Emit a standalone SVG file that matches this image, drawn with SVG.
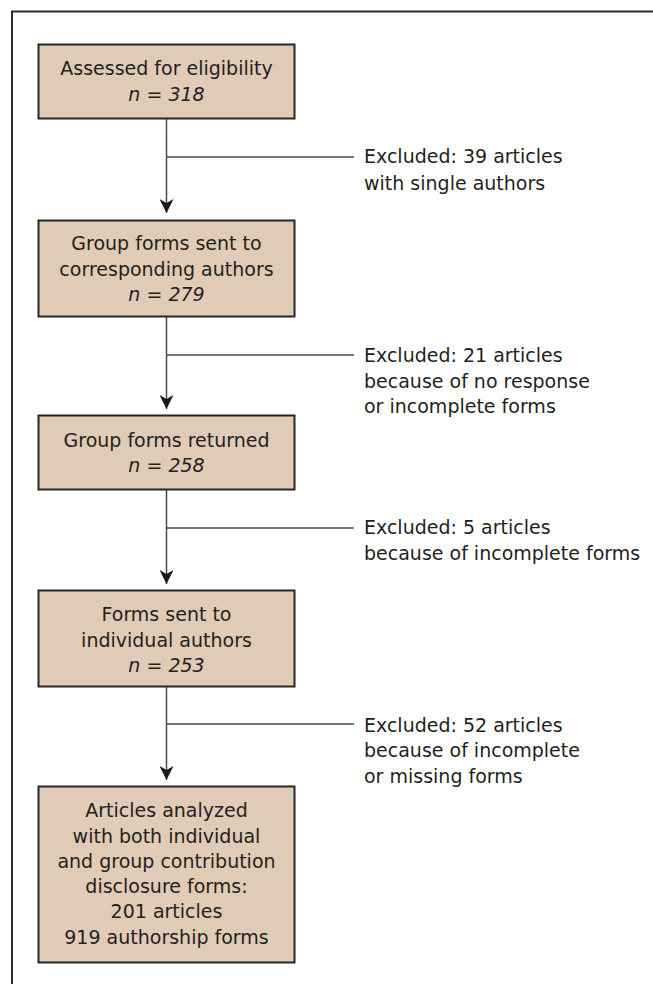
<svg xmlns="http://www.w3.org/2000/svg" width="653" height="984" viewBox="0 0 653 984">
<style>
  .box { fill: #e0cbb6; stroke: #262626; stroke-width: 2; }
  .t { font-family: "DejaVu Sans", "Liberation Sans", sans-serif; font-size: 19px; fill: #231f20; }
  .c { text-anchor: middle; }
  .i { font-style: italic; }
  .ln { stroke: #4a4a4a; stroke-width: 1.5; fill: none; }
  .frame { stroke: #2a2a2a; stroke-width: 2; fill: none; }
</style>
<defs>
  <marker id="arr" viewBox="0 0 14 14" refX="14" refY="7" markerWidth="14" markerHeight="14" markerUnits="userSpaceOnUse" orient="auto">
    <path d="M0,0 L14,7 L0,14 L4,7 Z" fill="#1a1a1a"/>
  </marker>
</defs>
<rect width="653" height="984" fill="#ffffff"/>
<path class="frame" d="M12,984 L12,11.5 L653,11.5"/>

<g id="connectors">
  <line class="ln" x1="166.5" y1="118" x2="166.5" y2="213" marker-end="url(#arr)"/>
  <line class="ln" x1="166.5" y1="157" x2="354" y2="157"/>
  <line class="ln" x1="166.5" y1="316" x2="166.5" y2="409" marker-end="url(#arr)"/>
  <line class="ln" x1="166.5" y1="355" x2="354" y2="355"/>
  <line class="ln" x1="166.5" y1="489" x2="166.5" y2="584" marker-end="url(#arr)"/>
  <line class="ln" x1="166.5" y1="528" x2="354" y2="528"/>
  <line class="ln" x1="166.5" y1="686" x2="166.5" y2="780" marker-end="url(#arr)"/>
  <line class="ln" x1="166.5" y1="724" x2="354" y2="724"/>
</g>

<g id="node1">
  <rect class="box" x="38.5" y="44.5" width="256" height="74"/>
  <text class="t c" x="166.5" y="75">Assessed for eligibility</text>
  <text class="t c i" x="166.5" y="101">n = 318</text>
</g>

<g id="node2">
  <rect class="box" x="38.5" y="220.5" width="256" height="96"/>
  <text class="t c" x="166.5" y="250">Group forms sent to</text>
  <text class="t c" x="166.5" y="276">corresponding authors</text>
  <text class="t c i" x="166.5" y="301">n = 279</text>
</g>

<g id="node3">
  <rect class="box" x="38.5" y="415.5" width="256" height="74"/>
  <text class="t c" x="166.5" y="447">Group forms returned</text>
  <text class="t c i" x="166.5" y="472">n = 258</text>
</g>

<g id="node4">
  <rect class="box" x="38.5" y="590.5" width="256" height="96"/>
  <text class="t c" x="166.5" y="621">Forms sent to</text>
  <text class="t c" x="166.5" y="647">individual authors</text>
  <text class="t c i" x="166.5" y="672">n = 253</text>
</g>

<g id="node5">
  <rect class="box" x="38.5" y="786.5" width="256" height="176"/>
  <text class="t c" x="166.5" y="817">Articles analyzed</text>
  <text class="t c" x="166.5" y="843">with both individual</text>
  <text class="t c" x="166.5" y="868">and group contribution</text>
  <text class="t c" x="166.5" y="893">disclosure forms:</text>
  <text class="t c" x="166.5" y="918">201 articles</text>
  <text class="t c" x="166.5" y="944">919 authorship forms</text>
</g>

<g id="excl1">
  <text class="t" x="364" y="163">Excluded: 39 articles</text>
  <text class="t" x="364" y="190">with single authors</text>
</g>
<g id="excl2">
  <text class="t" x="364" y="362">Excluded: 21 articles</text>
  <text class="t" x="364" y="388">because of no response</text>
  <text class="t" x="364" y="413">or incomplete forms</text>
</g>
<g id="excl3">
  <text class="t" x="364" y="534">Excluded: 5 articles</text>
  <text class="t" x="364" y="560">because of incomplete forms</text>
</g>
<g id="excl4">
  <text class="t" x="364" y="732">Excluded: 52 articles</text>
  <text class="t" x="364" y="757">because of incomplete</text>
  <text class="t" x="364" y="783">or missing forms</text>
</g>
</svg>
